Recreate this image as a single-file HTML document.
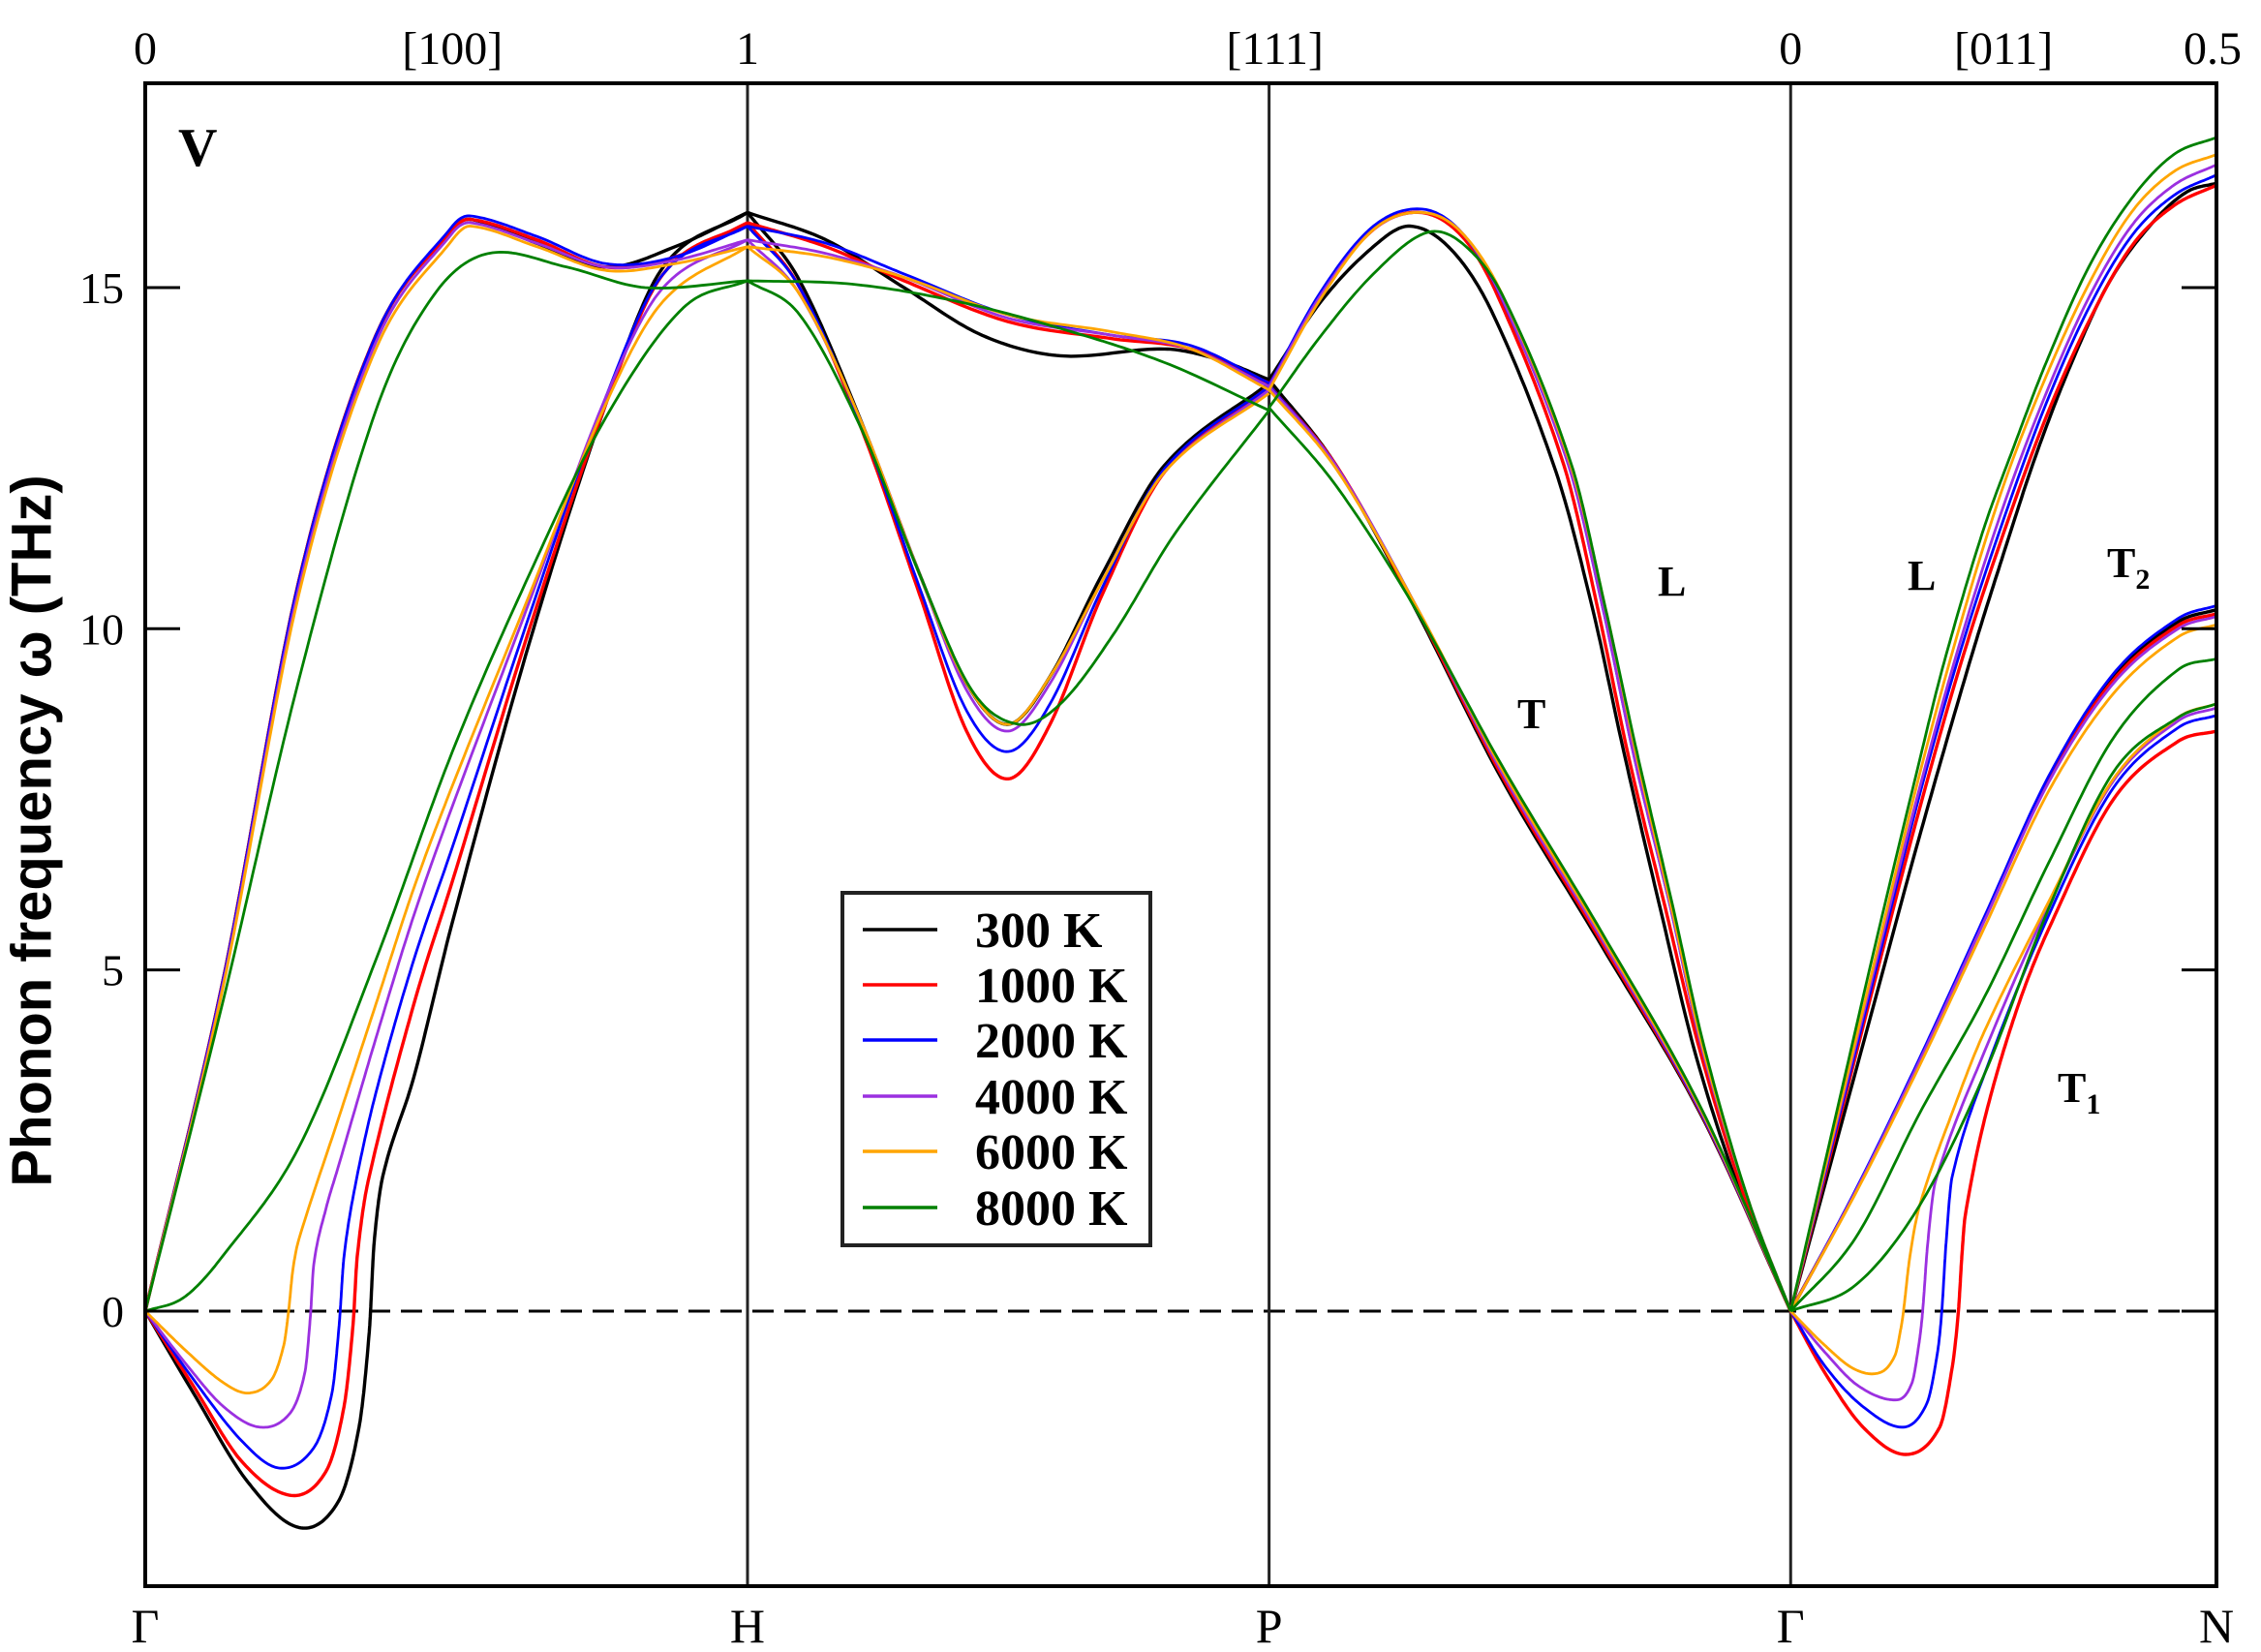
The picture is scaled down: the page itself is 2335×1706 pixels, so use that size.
<!DOCTYPE html>
<html><head><meta charset="utf-8"><style>
html,body{margin:0;padding:0;background:#fff;}
svg{display:block;}
text{font-family:"Liberation Serif",serif;fill:#000;}
</style></head><body>
<svg id="chart" width="2335" height="1706" viewBox="0 0 2335 1706" xmlns="http://www.w3.org/2000/svg">
<g id="curves"></g>
<g id="frame"></g>
</svg>
<script>
// ---- data ----
const temps = ['300 K','1000 K','2000 K','4000 K','6000 K','8000 K'];
const colors = ['#000000','#ff0000','#0000ff','#9b30e0','#ffa500','#008000'];
const segLabelsBottom = ['Γ','H','P','Γ','N'];
const topLabels = ['0','[100]','1','[111]','0','[011]','0.5'];
const topLabelSeg = [0,0,1,2,3,3,3];
const topLabelFrac = [0,0.51,0,0,0,0.5,1];
const yTicks = [0,5,10,15];
const segLengths = [1,0.866,0.866,0.707];

const gh_L = [
 [[0,0],[0.128,4.8],[0.255,10.7],[0.383,14.3],[0.51,15.85],[0.54,16.0],[0.65,15.65],[0.765,15.3],[0.88,15.6],[1,16.1]],
 [[0,0],[0.128,4.8],[0.255,10.7],[0.383,14.3],[0.51,15.85],[0.54,16.0],[0.65,15.7],[0.765,15.3],[0.88,15.45],[1,15.95]],
 [[0,0],[0.128,4.8],[0.255,10.7],[0.383,14.3],[0.51,15.9],[0.54,16.05],[0.65,15.75],[0.765,15.35],[0.88,15.45],[1,15.9]],
 [[0,0],[0.128,4.75],[0.255,10.6],[0.383,14.2],[0.51,15.8],[0.54,15.95],[0.65,15.65],[0.765,15.3],[0.88,15.4],[1,15.7]],
 [[0,0],[0.128,4.7],[0.255,10.5],[0.383,14.1],[0.51,15.7],[0.54,15.9],[0.65,15.6],[0.765,15.25],[0.88,15.35],[1,15.6]],
 [[0,0],[0.128,4.5],[0.255,9.25],[0.383,13.2],[0.48,14.9],[0.57,15.5],[0.7,15.3],[0.83,15.0],[1,15.1]]
];
const gh_T = [
 [[0,0],[0.08,-1.2],[0.17,-2.5],[0.255,-3.17],[0.32,-2.8],[0.355,-1.7],[0.372,-0.3],[0.38,1.0],[0.395,2.0],[0.446,3.43],[0.51,5.7],[0.638,9.8],[0.765,13.3],[0.86,15.3],[1,16.1]],
 [[0,0],[0.08,-1.1],[0.16,-2.2],[0.242,-2.7],[0.3,-2.35],[0.33,-1.4],[0.345,-0.2],[0.352,0.8],[0.37,1.9],[0.446,4.5],[0.51,6.3],[0.638,10.0],[0.765,13.3],[0.86,15.2],[1,15.95]],
 [[0,0],[0.08,-1.0],[0.16,-1.9],[0.223,-2.3],[0.28,-2.0],[0.31,-1.2],[0.322,-0.2],[0.33,0.8],[0.35,1.9],[0.383,3.2],[0.446,5.15],[0.51,6.8],[0.638,10.2],[0.765,13.4],[0.86,15.2],[1,15.9]],
 [[0,0],[0.07,-0.8],[0.13,-1.4],[0.19,-1.7],[0.24,-1.5],[0.265,-0.9],[0.274,-0.1],[0.28,0.7],[0.3,1.5],[0.32,2.1],[0.383,4.0],[0.446,5.8],[0.51,7.4],[0.638,10.4],[0.765,13.4],[0.86,15.0],[1,15.7]],
 [[0,0],[0.07,-0.6],[0.13,-1.05],[0.172,-1.2],[0.21,-1.0],[0.23,-0.5],[0.238,0],[0.245,0.6],[0.255,1.05],[0.32,2.8],[0.383,4.5],[0.446,6.2],[0.51,7.7],[0.638,10.5],[0.765,13.3],[0.86,14.8],[1,15.6]],
 [[0,0],[0.064,0.2],[0.128,0.8],[0.255,2.4],[0.383,5.15],[0.51,8.2],[0.638,10.8],[0.765,13.1],[0.893,14.7],[1,15.1]]
];
const hp_C = [
 [[0,16.1],[0.1,15.1],[0.22,13.0],[0.33,10.8],[0.42,9.2],[0.5,8.6],[0.58,9.3],[0.68,10.8],[0.8,12.4],[1,13.6]],
 [[0,15.95],[0.1,15.0],[0.22,12.9],[0.33,10.5],[0.42,8.5],[0.5,7.8],[0.58,8.6],[0.68,10.5],[0.8,12.3],[1,13.55]],
 [[0,15.9],[0.1,15.0],[0.22,12.95],[0.33,10.6],[0.42,8.8],[0.5,8.2],[0.58,8.9],[0.68,10.6],[0.8,12.35],[1,13.55]],
 [[0,15.7],[0.1,14.9],[0.22,13.0],[0.33,10.8],[0.42,9.1],[0.5,8.5],[0.58,9.2],[0.68,10.7],[0.8,12.3],[1,13.5]],
 [[0,15.6],[0.1,14.9],[0.22,13.0],[0.33,10.8],[0.42,9.2],[0.5,8.6],[0.58,9.3],[0.68,10.7],[0.8,12.3],[1,13.45]],
 [[0,15.1],[0.1,14.6],[0.22,12.9],[0.33,10.8],[0.43,9.1],[0.52,8.6],[0.6,8.9],[0.7,9.9],[0.82,11.4],[1,13.2]]
];
const hp_D = [
 [[0,16.1],[0.15,15.7],[0.3,15.0],[0.45,14.3],[0.6,14.0],[0.8,14.1],[0.9,13.95],[1,13.65]],
 [[0,15.95],[0.15,15.6],[0.3,15.1],[0.5,14.5],[0.7,14.25],[0.85,14.1],[1,13.6]],
 [[0,15.9],[0.15,15.65],[0.3,15.2],[0.5,14.6],[0.7,14.3],[0.85,14.15],[1,13.6]],
 [[0,15.7],[0.15,15.5],[0.3,15.15],[0.5,14.55],[0.7,14.3],[0.85,14.1],[1,13.55]],
 [[0,15.6],[0.15,15.45],[0.3,15.15],[0.5,14.6],[0.7,14.35],[0.85,14.1],[1,13.5]],
 [[0,15.1],[0.2,15.05],[0.4,14.8],[0.6,14.4],[0.8,13.9],[1,13.2]]
];
const pg_L = [
 [[0,13.65],[0.1,14.8],[0.2,15.6],[0.27,15.9],[0.35,15.55],[0.43,14.6],[0.55,12.3],[0.62,10.3],[0.68,8.2],[0.75,5.9],[0.82,3.7],[0.91,1.6],[1,0]],
 [[0,13.57],[0.1,14.9],[0.2,15.85],[0.29,16.1],[0.37,15.75],[0.44,14.85],[0.565,12.4],[0.63,10.3],[0.69,8.1],[0.76,5.9],[0.825,3.85],[0.915,1.6],[1,0]],
 [[0,13.57],[0.1,14.95],[0.2,15.9],[0.293,16.15],[0.37,15.8],[0.446,14.84],[0.574,12.4],[0.64,10.3],[0.70,8.12],[0.77,5.9],[0.83,3.85],[0.92,1.6],[1,0]],
 [[0,13.55],[0.1,14.9],[0.2,15.85],[0.293,16.1],[0.37,15.8],[0.446,14.85],[0.574,12.4],[0.64,10.3],[0.70,8.12],[0.77,5.9],[0.83,3.85],[0.92,1.6],[1,0]],
 [[0,13.5],[0.1,14.85],[0.2,15.85],[0.293,16.1],[0.37,15.8],[0.45,14.85],[0.578,12.4],[0.645,10.3],[0.705,8.12],[0.772,5.9],[0.832,3.85],[0.92,1.6],[1,0]],
 [[0,13.24],[0.1,14.3],[0.2,15.2],[0.3,15.8],[0.37,15.65],[0.45,14.85],[0.58,12.4],[0.645,10.3],[0.705,8.2],[0.775,5.9],[0.835,3.85],[0.92,1.6],[1,0]]
];
const pg_T = [
 [[0,13.65],[0.128,12.4],[0.28,10.3],[0.446,7.8],[0.638,5.35],[0.83,2.85],[1,0]],
 [[0,13.57],[0.128,12.4],[0.28,10.33],[0.446,7.85],[0.638,5.4],[0.83,2.87],[1,0]],
 [[0,13.57],[0.128,12.39],[0.28,10.36],[0.446,7.9],[0.638,5.45],[0.83,2.88],[1,0]],
 [[0,13.55],[0.128,12.39],[0.28,10.36],[0.446,7.9],[0.638,5.45],[0.83,2.9],[1,0]],
 [[0,13.5],[0.128,12.35],[0.28,10.36],[0.446,7.95],[0.638,5.5],[0.83,2.92],[1,0]],
 [[0,13.24],[0.128,12.1],[0.28,10.3],[0.446,8.0],[0.638,5.55],[0.83,2.95],[1,0]]
];
const gn_L = [
 [[0,0],[0.1,2.3],[0.2,4.6],[0.3,6.9],[0.42,9.5],[0.5,11.1],[0.577,12.56],[0.66,13.9],[0.75,15.1],[0.85,15.95],[0.93,16.4],[1,16.53]],
 [[0,0],[0.1,2.45],[0.2,4.9],[0.3,7.3],[0.4,9.5],[0.5,11.4],[0.6,13.1],[0.7,14.5],[0.8,15.6],[0.9,16.2],[1,16.5]],
 [[0,0],[0.1,2.5],[0.2,5.0],[0.3,7.5],[0.4,9.7],[0.5,11.6],[0.6,13.3],[0.7,14.7],[0.8,15.75],[0.9,16.35],[1,16.65]],
 [[0,0],[0.1,2.55],[0.2,5.1],[0.3,7.6],[0.4,9.85],[0.5,11.8],[0.6,13.45],[0.7,14.85],[0.8,15.9],[0.9,16.5],[1,16.8]],
 [[0,0],[0.1,2.6],[0.2,5.2],[0.3,7.8],[0.4,10.1],[0.5,12.1],[0.6,13.7],[0.7,15.05],[0.8,16.1],[0.9,16.7],[1,16.95]],
 [[0,0],[0.1,2.7],[0.2,5.4],[0.3,8.0],[0.36,9.5],[0.45,11.4],[0.52,12.6],[0.6,13.9],[0.7,15.3],[0.8,16.3],[0.9,16.95],[1,17.2]]
];
const gn_T2 = [
 [[0,0],[0.152,1.75],[0.303,3.68],[0.455,5.74],[0.606,7.8],[0.758,9.3],[0.91,10.1],[1,10.28]],
 [[0,0],[0.152,1.75],[0.303,3.68],[0.455,5.74],[0.606,7.78],[0.758,9.25],[0.91,10.05],[1,10.22]],
 [[0,0],[0.152,1.77],[0.303,3.71],[0.455,5.78],[0.606,7.84],[0.758,9.34],[0.91,10.15],[1,10.34]],
 [[0,0],[0.152,1.75],[0.303,3.67],[0.455,5.72],[0.606,7.75],[0.758,9.2],[0.91,10.0],[1,10.18]],
 [[0,0],[0.152,1.72],[0.303,3.6],[0.455,5.62],[0.606,7.62],[0.758,9.05],[0.91,9.88],[1,10.06]],
 [[0,0],[0.152,1.07],[0.303,2.9],[0.455,4.6],[0.606,6.57],[0.758,8.4],[0.91,9.4],[1,9.56]]
];
const gn_T1 = [
 null,
 [[0,0],[0.08,-0.9],[0.17,-1.7],[0.27,-2.1],[0.35,-1.7],[0.38,-0.8],[0.394,0],[0.402,0.8],[0.41,1.4],[0.455,2.8],[0.53,4.4],[0.606,5.6],[0.758,7.5],[0.91,8.35],[1,8.5]],
 [[0,0],[0.08,-0.8],[0.17,-1.4],[0.265,-1.7],[0.32,-1.35],[0.345,-0.6],[0.355,0],[0.365,1.0],[0.379,1.96],[0.455,3.47],[0.606,5.8],[0.758,7.67],[0.91,8.55],[1,8.73]],
 [[0,0],[0.08,-0.6],[0.16,-1.1],[0.25,-1.3],[0.285,-1.05],[0.302,-0.45],[0.31,0],[0.322,1.0],[0.34,1.9],[0.455,3.8],[0.606,5.95],[0.758,7.77],[0.91,8.65],[1,8.84]],
 [[0,0],[0.08,-0.5],[0.15,-0.85],[0.21,-0.9],[0.245,-0.65],[0.259,-0.25],[0.265,0],[0.28,0.8],[0.303,1.55],[0.379,2.9],[0.455,4.1],[0.606,6.0],[0.758,7.8],[0.91,8.7],[1,8.9]],
 [[0,0],[0.152,0.38],[0.303,1.55],[0.455,3.47],[0.606,5.9],[0.758,7.9],[0.91,8.7],[1,8.9]]
];

// ---- axes ----
const PL=150, PR=2289, PT=86, PB=1638, Y0=1354, PXPT=70.47;
const totalK = segLengths.reduce((a,b)=>a+b,0);
const segStart = [0]; for(let i=0;i<segLengths.length;i++) segStart.push(segStart[i]+segLengths[i]);
function xk(k){ return PL + k*(PR-PL)/totalK; }
function xs(seg,f){ return xk(segStart[seg]+f*segLengths[seg]); }
function yv(w){ return Y0 - w*PXPT; }

const NS='http://www.w3.org/2000/svg';
function mk(tag,attrs,parent){const e=document.createElementNS(NS,tag);for(const k in attrs)e.setAttribute(k,attrs[k]);parent.appendChild(e);return e;}

function smooth(pts,n){
  const X=pts.map(p=>p[0]), Y=pts.map(p=>p[1]); const m=pts.length;
  const t=[];
  for(let i=0;i<m;i++){
    if(i===0) t.push((Y[1]-Y[0])/(X[1]-X[0]));
    else if(i===m-1) t.push((Y[m-1]-Y[m-2])/(X[m-1]-X[m-2]));
    else t.push((Y[i+1]-Y[i-1])/(X[i+1]-X[i-1]));
  }
  const out=[];
  for(let i=0;i<m-1;i++){const hh=X[i+1]-X[i];for(let j=0;j<n;j++){const u=j/n;
    const h00=2*u*u*u-3*u*u+1,h10=u*u*u-2*u*u+u,h01=-2*u*u*u+3*u*u,h11=u*u*u-u*u;
    out.push([X[i]+u*hh, h00*Y[i]+h10*hh*t[i]+h01*Y[i+1]+h11*hh*t[i+1]]);}}
  out.push([X[m-1],Y[m-1]]);return out;
}

const svg=document.getElementById('chart');
const curves=document.getElementById('curves');
const clip=mk('clipPath',{id:'pc'},mk('defs',{},svg));
mk('rect',{x:PL,y:PT,width:PR-PL,height:PB-PT},clip);
curves.setAttribute('clip-path','url(#pc)');

const zl=mk('line',{x1:PL,x2:PR,y1:yv(0),y2:yv(0),stroke:'#000','stroke-width':3,'stroke-dasharray':'22 11'},curves);



for(let i=1;i<segLengths.length;i++){
  const l=mk('line',{x1:xk(segStart[i]),x2:xk(segStart[i]),y1:PT,y2:PB,stroke:'#222','stroke-width':3},curves);
  
  
}

const branches=[[0,gh_L,'gamma-h-l'],[0,gh_T,'gamma-h-t'],[1,hp_C,'h-p-lower'],[1,hp_D,'h-p-upper'],[2,pg_L,'p-gamma-l'],[2,pg_T,'p-gamma-t'],[3,gn_L,'gamma-n-l'],[3,gn_T2,'gamma-n-t2'],[3,gn_T1,'gamma-n-t1']];
for(let ti=0;ti<temps.length;ti++){
  for(const [seg,arr,nm] of branches){
    const pts=arr[ti]; if(!pts) continue;
    const s=smooth(pts,20);
    const d=s.map((p,i)=>(i?'L':'M')+xs(seg,p[0]).toFixed(1)+' '+yv(p[1]).toFixed(1)).join('');
    const p=mk('path',{d:d,fill:'none',stroke:colors[ti],'stroke-width':ti<2?3.4:2.8,'stroke-linejoin':'round'},curves);
    
    
  }
}

const fr=document.getElementById('frame');
const box=mk('rect',{x:PL,y:PT,width:PR-PL,height:PB-PT,fill:'none',stroke:'#000','stroke-width':4},fr);


for(const v of yTicks){
  const y=yv(v);
  const t1=mk('line',{x1:PL,x2:PL+36,y1:y,y2:y,stroke:'#000','stroke-width':3},fr);
  
  
  const t2=mk('line',{x1:PR-36,x2:PR,y1:y,y2:y,stroke:'#000','stroke-width':3},fr);
  
  
  const tx=mk('text',{x:PL-22,y:y+16,'font-size':46,'text-anchor':'end'},fr);
  tx.textContent=String(v);
  
  
}
for(let i=0;i<segLabelsBottom.length;i++){
  const x=xk(segStart[i]);
  const t=mk('text',{x:x,y:1696,'font-size':50,'text-anchor':'middle'},fr);
  t.textContent=segLabelsBottom[i];
  
  
}
for(let i=0;i<topLabels.length;i++){
  let x=xs(topLabelSeg[i],topLabelFrac[i]);
  if(i===3) x+=6; if(i===6) x-=4;
  const t=mk('text',{x:x,y:66,'font-size':48,'text-anchor':'middle'},fr);
  t.textContent=topLabels[i];
  
  
}
</script>
<svg style="position:absolute;left:0;top:0" width="2335" height="1706">
<text x="37" y="858" transform="rotate(-90 37 858)" text-anchor="middle" font-size="58" font-weight="bold" style="font-family:'Liberation Sans',sans-serif" dominant-baseline="middle">Phonon frequency ω (THz)</text>
<text x="184" y="171" font-size="56" font-weight="bold">V</text>
<text x="1712" y="615" font-size="44" font-weight="bold">L</text>
<text x="1970" y="609" font-size="44" font-weight="bold">L</text>
<text x="1567" y="752" font-size="44" font-weight="bold">T</text>
<text x="2176" y="596" font-size="44" font-weight="bold">T<tspan font-size="30" dy="12">2</tspan></text>
<text x="2125" y="1138" font-size="44" font-weight="bold">T<tspan font-size="30" dy="12">1</tspan></text>
<g>
<rect x="870" y="922" width="318" height="364" fill="#fff" stroke="#222" stroke-width="4"/>
<g><line x1="891" x2="968" y1="960" y2="960" stroke="#000" stroke-width="3.5"/><text x="1007" y="978" font-size="52" font-weight="bold">300 K</text></g>
<g><line x1="891" x2="968" y1="1017" y2="1017" stroke="#ff0000" stroke-width="3.5"/><text x="1007" y="1035" font-size="52" font-weight="bold">1000 K</text></g>
<g><line x1="891" x2="968" y1="1074" y2="1074" stroke="#0000ff" stroke-width="3.5"/><text x="1007" y="1092" font-size="52" font-weight="bold">2000 K</text></g>
<g><line x1="891" x2="968" y1="1132" y2="1132" stroke="#9b30e0" stroke-width="3.5"/><text x="1007" y="1150" font-size="52" font-weight="bold">4000 K</text></g>
<g><line x1="891" x2="968" y1="1189" y2="1189" stroke="#ffa500" stroke-width="3.5"/><text x="1007" y="1207" font-size="52" font-weight="bold">6000 K</text></g>
<g><line x1="891" x2="968" y1="1247" y2="1247" stroke="#008000" stroke-width="3.5"/><text x="1007" y="1265" font-size="52" font-weight="bold">8000 K</text></g>
</g>
</svg>
</body></html>
